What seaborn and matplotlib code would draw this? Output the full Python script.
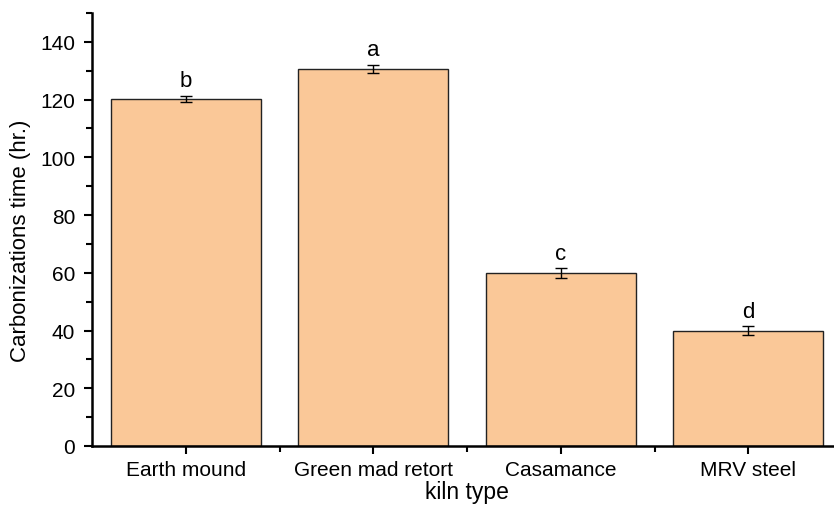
import matplotlib
matplotlib.use("Agg")
import matplotlib.pyplot as plt
from matplotlib.ticker import MultipleLocator, FixedLocator
import seaborn as sns
import pandas as pd

kilns = ["Earth mound", "Green mad retort", "Casamance", "MRV steel"]
hours = [120.2, 130.6, 59.9, 39.9]
errors = [1.2, 1.5, 1.6, 1.5]
letters = ["b", "a", "c", "d"]

df = pd.DataFrame({"kiln": kilns, "hours": hours})

sns.set_style("ticks")
plt.rcParams["font.family"] = ["Liberation Sans", "DejaVu Sans"]

fig = plt.figure(figsize=(8.34, 5.06), dpi=100)
W, H = 834, 506
ax = fig.add_axes([92 / W, (H - 447) / H, (842 - 92) / W, (447 - 14) / H])

sns.barplot(data=df, x="kiln", y="hours", color="#FAC898", saturation=1,
            width=0.8, edgecolor="#222222", linewidth=1.0, errorbar=None, ax=ax)
ax.errorbar(range(len(kilns)), hours, yerr=errors, fmt="none",
            ecolor="black", elinewidth=1.0, capsize=4, capthick=1.0)
for i, (h, e, t) in enumerate(zip(hours, errors, letters)):
    ax.text(i, h + e + 1.5, t, ha="center", va="bottom", fontsize=16,
            color="black")

ax.set_xlim(-0.5, 3.5)
ax.set_ylim(0, 150)
ax.yaxis.set_major_locator(FixedLocator([0, 20, 40, 60, 80, 100, 120, 140]))
ax.yaxis.set_minor_locator(MultipleLocator(10))
ax.xaxis.set_minor_locator(FixedLocator([0.5, 1.5, 2.5]))
ax.tick_params(axis="both", which="major", direction="out", length=6, width=1.5,
               labelsize=15, colors="black", labelcolor="black")
ax.tick_params(axis="both", which="minor", direction="out", length=4, width=1.5,
               colors="black")
ax.tick_params(axis="x", pad=4)
ax.tick_params(axis="y", pad=6)

for s in ["top", "right"]:
    ax.spines[s].set_visible(False)
for s in ["left", "bottom"]:
    ax.spines[s].set_linewidth(1.8)
    ax.spines[s].set_color("black")

ax.set_xlabel("kiln type", fontsize=16.5, color="black")
ax.set_ylabel("Carbonizations time (hr.)", fontsize=16, color="black")
ax.xaxis.set_label_coords((467 - 92) / 750, -(481 - 447) / 433)
ax.yaxis.set_label_coords((31 - 92) / 750, 1 - (241 - 14) / 433)

fig.savefig("out.png", dpi=100)
